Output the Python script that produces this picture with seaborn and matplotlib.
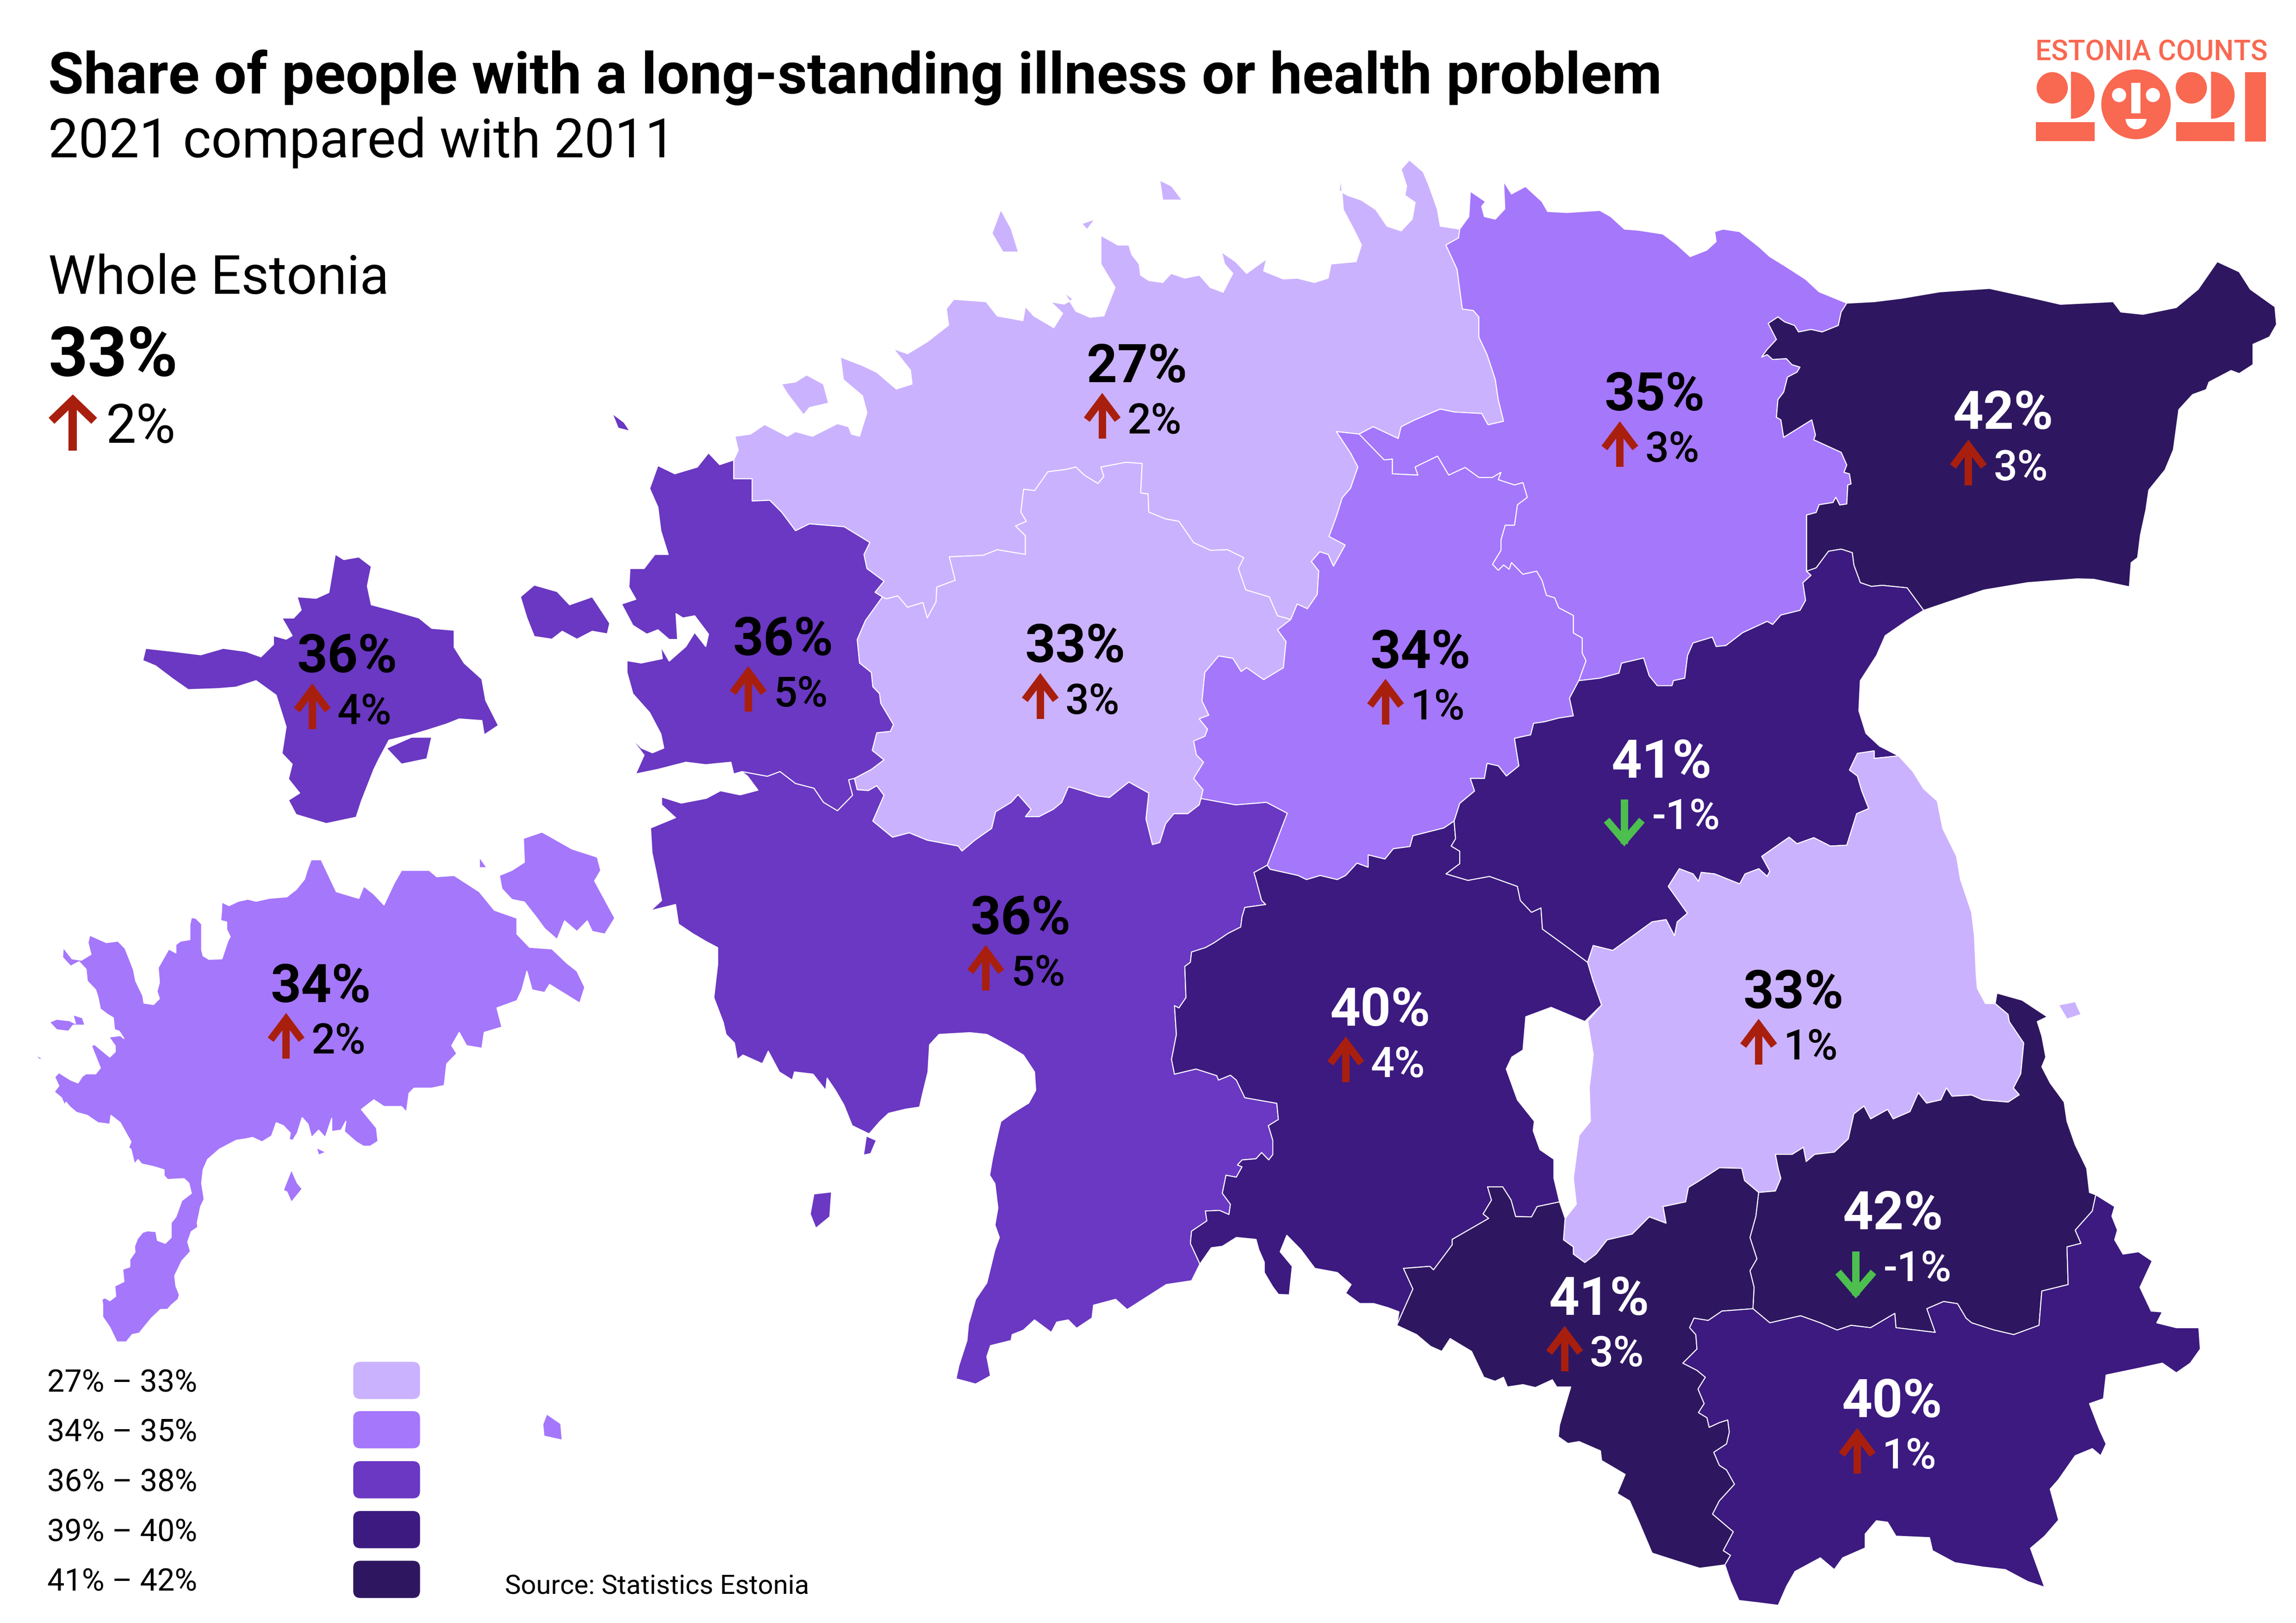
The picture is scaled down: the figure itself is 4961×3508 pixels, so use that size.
"""Share of people with a long-standing illness, Estonia 2021 vs 2011 (map)."""
import matplotlib
matplotlib.use("Agg")
import matplotlib.pyplot as plt
import seaborn as sns
from matplotlib.patches import Ellipse, FancyBboxPatch, Rectangle, Wedge

sns.set_theme(style="white")
plt.rcParams['font.family'] = ['Roboto', 'DejaVu Sans']

# Values
legend_labels = ["27% – 33%", "34% – 35%", "36% – 38%", "39% – 40%", "41% – 42%"]
legend_colors = ["#CBB2FE", "#A577FB", "#6A38C2", "#3C1A80", "#2E1760"]
palette = sns.color_palette(legend_colors)

region_names = ["Harju", "Laane-Viru", "Ida-Viru", "Rapla", "Jarva", "Laane", "Hiiu", "Saare",
                "Parnu", "Viljandi", "Jogeva", "Tartu", "Polva", "Valga", "Voru"]
region_pct = [27, 35, 42, 33, 34, 36, 36, 34, 36, 40, 41, 33, 42, 41, 40]
region_change = [2, 3, 3, 3, 1, 5, 4, 2, 5, 4, -1, 1, -1, 3, 1]
region_shade = [0, 1, 4, 0, 1, 2, 2, 1, 2, 3, 3, 0, 4, 4, 3]
label_x = [772.5, 1124.2, 1361, 730.4, 965, 532, 235.8, 218, 693.4, 938, 1129, 1218.5, 1286.3, 1086.7, 1285.5]
label_y = [259.6, 278.9, 291.4, 450, 453.9, 445.2, 457, 681, 634.8, 697, 528.4, 685, 835.5, 893.6, 963]

seg_lh = [(498.5,312.6),(498.5,325.4),(511,325.4),(511,340.5),(523,340),(531,348),(540.5,360.7),(550,356),
          (573.6,358),(591,368.7),(587,376.8),(589,386.4),(600.6,395),(594.5,402.5),(599.5,405.7)]
seg_rh = [(599.5,405.7),(602,407),(610,405),(616.6,412.7),(627,409.5),(630,420),(636,409),(636.5,399),(649,394.4),
          (645,378.4),(668,377.4),(677.6,373.6),(696.7,376.8),(696.7,364),(690,357.5),(697.4,354.3),(693.6,348),
          (695.5,332.5),(703,333.4),(712,320.6),(724.5,319),(731,317.4),(736.7,322.9),(746,328.6),(750,323.8),
          (748,317.4),(765,314.2),(776,315),(775,335),(780,335.7),(780.5,348),(792,352.7),(801,354.3),(811,368.8),
          (822.4,374),(834,373.6),(845,379),(841.4,386.4),(846.4,400.9),(862.4,405.7),(868,418.5),(877,421)]
seg_hj = [(877,421),(881.4,410.5),(888.3,413.7),(895,404),(896,388),(891,381.6),(896.7,375),(902.4,376.8),
          (906,384.8),(914,370.4),(903,364.6),(908,351),(912,338.3),(917.6,331.8),(922.6,317.4),(917.6,307.8),
          (908,293.3),(923.4,295)]
seg_hv = [(923.4,295),(933,290),(950,298),(952,290),(961.5,285.3),(978.6,278),(988,280),(1006.7,281),(1011,288.7),
          (1021.6,286.3),(1018,271.6),(1016,258),(1010.4,241),(1004.8,229),(1004.8,215.4),(1001,211),(993.6,210),
          (990,183),(982.4,166.5),(991,161.7),(991.8,155.7)]
coast_harju = [(991.8,155.7),(978.6,153.7),(976.7,142.5),(971,126.4),(967,116.8),(957.6,108.7),(952,115),(955.7,126.4),
               (954.6,132.8),(961.5,137.6),(959.5,148.9),(952,156.9),(942.4,153.7),(934.8,142.5),(925,136),(915.7,132.8),
               (910,129.6),(911,120),(912.7,142.5),(919.5,155.3),(925,166.5),(921.4,177.8),(904.3,179.4),(902.4,189),
               (893,192),(881.4,189),(872,189.6),(858.6,184.2),(860.5,176),(847,185.8),(839.5,177.8),(830,171.3),
               (832,179.4),(837.6,185.8),(831,198.6),(822.4,195.4),(815,187),(805,189),(795.7,185.8),(790,192),
               (780.5,190.6),(775,187),(774,179.4),(769,173),(767,166.5),(759.5,166.5),(748,160),(748,179.4),
               (757.6,195.4),(750,214.7),(740.5,215.6),(731,211.5),(723,198.6),(729,203.4),(723,206.7),(713.8,205),
               (722,213),(716,222.7),(702.4,214.7),(696.7,208.3),(695,217.9),(677.6,214.7),(670,205),(648,203.4),
               (643,209.9),(644.5,221),(630,232.3),(616.6,240.4),(607,237),(618.6,251.6),(619.7,261),(609,264.4),
               (595.7,253),(586,248.4),(571,242.6),(573,258),(586,269),(589,280.5),(584,296.5),(578.5,295),(576.6,290),
               (569,287.9),(552,296.5),(540.5,293.3),(535,296.5),(519.5,288.5),(510,295),(499.3,296.5),(501.6,306)]
seg_vj = [(923.4,295),(940.5,312.6),(946,312),(946,322),(963.4,322.9),(961.5,317.4),(976.7,310),(984.3,322.9),
          (995.5,317.7),(1004.8,324.5),(1014,324.5),(1019.8,321),(1018,326),(1029,329.6),(1034.7,328),(1037.7,338),
          (1031,343),(1029,356.9),(1022.7,356.9),(1019.8,367),(1019.8,374),(1014,383.5),(1018,387.6),(1021.6,384),
          (1025.4,386.9),(1027,382.4),(1034.7,390.3),(1044,388.2),(1047.7,394.4),(1050.7,404.6),(1056.3,406.3),
          (1059,413),(1069,418.3),(1069,430.2),(1075,433.6),(1075,443.8),(1077.6,449),(1072.7,462.6)]
seg_vk = [(1072.7,462.6),(1087,460.9),(1100,457.5),(1101.8,450.7),(1116.7,447.2),(1120.5,459.2),(1126,466),(1136,466),
          (1137,462.6),(1144.7,460.9),(1146.6,445.5),(1150.3,437),(1163.4,433),(1166,439.4),(1172.7,438.7),(1184,430),
          (1200.7,422.3),(1204.4,424.4),(1210,418),(1223,414.8),(1226.8,408),(1225,396),(1230.5,391),(1227.5,388.2)]
seg_vi = [(1227.5,388.2),(1227.5,350),(1234,348.3),(1236,343),(1245.4,341.5),(1247.3,338),(1250,343.2),(1254.8,342.5),
          (1255.5,329.6),(1257.7,328.9),(1256.6,322),(1252.9,321),(1254.8,316),(1251,307.4),(1232.4,298.9),(1233.5,295.5),
          (1231,285.3),(1211.9,297.2),(1210,285.3),(1207,283.6),(1208,271.6),(1211.9,266.5),(1214.5,256.3),(1221,252.9),
          (1223,249.5),(1217.5,247.8),(1213.7,243.7),(1204.4,244.3),(1200.7,241),(1197,242.6),(1200.7,237.5),(1207,230.7),
          (1201.4,219.8),(1208,215.4),(1212.6,218.8),(1219.3,221.2),(1222,225.6),(1230.5,223.9),(1238,225.6),(1249,221.2),
          (1251,212),(1254.8,206)]
coast_viru = [(1254.8,206),(1236,198.3),(1226.8,189.8),(1213.7,181.3),(1202.5,174.4),(1195,167.6),(1182,157.4),(1170.8,155.7),
              (1165,157.4),(1166,164.2),(1159.6,170),(1148.4,174.4),(1139,165.9),(1129.8,159),(1113,156.4),(1103.7,155.7),
              (1094.4,147.2),(1087,143),(1064.5,144.4),(1051.5,143.7),(1047.7,137),(1036.5,126.7),(1027,131.8),(1021.6,123.3),
              (1022.4,142),(1016,148.9),(1008.6,147.2),(1006.7,140.3),(1009.3,137),(999,130),(998,147.2),(991.8,155.7)]
coast_ida = [(1254.8,206),(1273.4,205),(1292,202.7),(1318,198.3),(1351.7,196),(1377.8,201.7),(1400,206.8),(1435.7,205),
             (1441,212),(1456,213.6),(1478.6,209),(1493.5,196.6),(1506.5,177.8),(1521.4,184.7),(1529,196.6),(1545.7,208.5),
             (1546.8,220.5),(1542,229),(1530.8,234),(1530.8,247.8),(1521.4,253.9),(1515.9,251.8),(1500.9,259.7),(1499,264.8),
             (1489.7,268.2),(1480.4,278.4),(1476.7,305.7),(1471,319.4),(1460,333),(1458,346.6),(1454.3,363.7),(1452.4,379),
             (1448,382.4),(1446.8,398.8),(1422.6,393.7),(1411.4,393.4),(1377.8,396),(1348,401),(1322,409.7),(1307,414.8)]
seg_ik = [(1307,414.8),(1295.8,399.5),(1279,397.8),(1271.5,398.5),(1264,396),(1259.6,384),(1258.5,375.6),(1251,373.2),
          (1242.4,374.6),(1234,385.9),(1227.5,388.2)]
seg_jk = [(1072.7,462.6),(1066.4,474.5),(1069,486.5),(1059,488),(1049.6,490.5),(1042,491.6),(1040,499.4),(1029,501.8),
          (1032,520.5),(1023.5,527.4),(1018,520.5),(1010.4,518.8),(1008.6,529),(999,529),(1001.9,537.6),(991.8,546),(988,558)]
seg_vk2 = [(988,558),(989,570),(986,575),(991.8,578.5),(991.8,587),(982.5,593.9),(997.4,598.3),(1012,595.6),(1031,602.4),
           (1033,612),(1040.6,620),(1047,617),(1048,631.4),(1063.4,642.6),(1078.7,654)]
seg_tk = [(1078.7,654),(1082.5,642.6),(1095.8,645.9),(1122.5,626.5),(1132,625),(1137.7,636),(1139.6,626.5),(1146.5,620.7),
          (1133.5,602.4),(1141,590.4),(1150.3,593.9),(1154,599),(1155.9,592.9),(1165,593.9),(1182,600.7),(1185.7,593.9),
          (1195,590.4),(1200.7,595.6),(1202.5,592),(1197,582),(1215.6,569),(1221,573.4),(1232.4,569.3),(1243.6,575),
          (1254.8,574.4),(1261.5,553),(1269.7,549.5),(1265,537.6),(1262,527.4),(1256.6,523.3),(1262,512),(1273.4,510.3),
          (1273.4,515.4),(1290,513.7)]
lake_k = [(1290,513.7),(1277,507),(1267.8,498.4),(1263,483),(1264,462.6),(1275,445.5),(1280.9,432),(1295.8,421.7),(1307,414.8)]
seg_rj = [(877,421),(868,428),(873.8,436),(872,453.8),(858.6,461.9),(847,453.8),(843.3,456.4),(837.6,447.4),(828,445.8),
          (818.6,457),(816.7,476.3),(821.3,486),(814.8,488.5),(820.5,495.6),(818.6,500.4),(811,503.6),(812.9,513),(817.8,518),
          (811,529),(817.4,536.7),(816,542.7)]
seg_jp = [(816,542.7),(839.5,547),(860.5,545.3),(874.6,552.7),(861,588)]
seg_jv = [(861,588),(863,590.8),(882,595),(887.7,597.8),(897,595),(908.6,597.8),(914.3,595),(922,586.6),(929.6,589.4),
          (929.6,581),(941,583.8),(946.7,576.8),(958,575.3),(960,568),(981,562.7),(988,558)]
seg_lr = [(599.5,405.7),(588,421.7),(582.4,434.6),(584,450.6),(592,457),(593,466.7),(597.6,471.5),(598.4,478),(607,492.4),
          (605,497),(595.7,498),(592.6,510),(600.6,516.4),(592,522.9),(580.5,529)]
seg_rp = [(580.5,529),(582.4,536.7),(590,537.3),(595.7,534),(600.6,540.5),(593,558),(606.4,569),(617.8,566),(630,571),
          (651,575),(653.6,578.4),(662.4,571),(673.8,563),(676.5,551.7),(687,545.3),(691.7,540),(700.5,550),(696.7,555),
          (706,555),(715.7,550),(721.4,545.3),(726,534.7),(734.8,537.3),(746,541),(753.8,542),(767,531.5),(780.5,539),
          (778.6,556.5),(783,574),(788,572.6),(792,559.8),(797.6,553),(807,553),(814.8,547),(816,542.7)]
seg_lp = [(580.5,529),(576.6,530),(579.3,540.5),(569,551),(559.5,545.3),(553,535.7),(540.5,532.5),(530,524.4),(521.4,527.6),(504,524.4)]
coast_laane = [(498.5,312.6),(489,315.8),(481.4,307.8),(473.8,317.4),(458.5,322),(447,316.4),(441.4,332),(447,344.7),(449,360.7),
               (454,376.8),(445,376.8),(437.6,386.4),(428,386.4),(427.3,399),(432,407.3),(422.3,410.5),(430,425),(439.5,431),
               (447,428),(454.7,434.6),(460.4,434.6),(459.3,417),(464,420),(472,418.5),(481.4,431),(479.5,439.4),(472,429.8),
               (466,439.4),(454.7,449.3),(449,439.4),(450,447.6),(435.7,450.6),(426,449),(426,457),(430,471.5),(441.4,484.3),
               (449,498.7),(451,508.4),(443.3,511.6),(435.7,508.4),(428,500.4),(437.6,513.2),(431.9,526),(447,522.9),(466,518),
               (479.5,519.7),(496.6,518),(498.5,526),(504,524.4)]
seg_pv = [(861,588),(852,593),(853.4,597.8),(857.2,611.9),(860,614.7),(845.8,616.7),(843.9,623),(843,630),(834.3,634.4),
          (824.8,640.8),(819,644),(809.6,647),(808.8,654),(805,656.8),(805.8,678),(801,685),(798,683.5),(799.3,703),(796,720),
          (798,730),(812.6,726.5),(826.7,731),(827.9,734),(836,730.7),(840,734),(845.8,746),(867.5,749.8),(868.6,760.8),
          (861.8,765),(864.8,774.9),(864.8,784.7),(862,788.3),(857.2,783.3),(853.4,787.5),(843.9,788.3),(840.8,791.7),
          (843.9,793),(840,800),(833,798.7),(830.5,811),(836,818.4),(835,825.4),(828.6,822.6),(819,823),(820,829.7),
          (809.6,836.7),(808.8,845),(815.3,859)]
coast_parnu = [(815.3,859),(809.6,870.4),(792.4,873),(765.8,890),(758,883),(743,887),(742,895.7),(731.5,902.7),(725.8,897),
               (718,898.5),(714.3,905.5),(702.9,897),(695.3,904),(687.7,907),(687,911),(673,914.5),(670.5,922),(673,935),
               (662.9,940.6),(649.6,937),(651.5,928),(657,911),(658,900),(662.9,883),(670.5,871.8),(676,849.3),(679,841),
               (676,832.5),(678,821),(676,804.4),(672.4,798.7),(674.3,787.5),(678,770.6),(680,762.2),(687.7,756.6),(699,749.6),
               (703.7,741),(702.9,728.5),(695.3,717),(683.8,710),(670.5,703),(659,701.8),(638,703),(631.6,710),(630.5,728.5),
               (626.7,744),(624.8,752.4),(615.3,753.8),(603.8,756.6),(598,762),(590.5,770.6),(579,765),(573.4,751),(567.6,741),
               (562,732.7),(561,741),(552.4,730),(539.8,728.5),(538.3,734),(529.5,728.5),(522,714.4),(518,722.9),(504.8,717),
               (501,720),(499,708.8),(493.3,703),(491.4,694.8),(485,678),(487.6,655.4),(487.6,644),(480,640),(470.5,634.4),
               (461,628),(459,614.7),(442,618.9),(449.5,612),(445.7,592.2),(443,579.6),(442,562.7),(459,555.7),(449.5,547),
               (449.5,541.6),(462.9,545.8),(480,542.5),(489.5,537.4),(502.9,540.2),(515,537),(508,527.6),(504,524.4)]
lake_v = [(1059.6,816.8),(1055.8,800.7),(1055.8,787.8),(1046.3,781.3),(1041.7,768.4),(1042.5,762),(1031,747.5),(1023.4,726.5),
          (1027.2,718.4),(1034.8,713.6),(1036.7,691),(1053.9,684.6),(1076.8,694.2),(1088.2,683),(1082.5,666.8),(1078.7,654)]
seg_vv = [(949,900.7),(960,876),(953.6,862),(971.5,860.6),(974,863),(986.7,846),(986.7,842.3),(1011.5,828),(1007.7,825),
          (1013.4,815.6),(1010.7,806.6),(1021,806.6),(1026.7,815.6),(1029.8,826.8),(1040.6,827),(1044.4,820),(1059.6,816.8)]
coast_v = [(815.3,859),(823,848),(830.5,847),(840,841),(853.4,842.3),(855.3,849.3),(859,857.8),(859,864.8),(864.8,874.6),
           (868.6,879.7),(876,880),(878,860.6),(869.8,850.7),(874.3,839.5),(883.9,849.3),(893.4,862),(908.6,864.8),(918,873),
           (914.3,878.8),(923.9,885.9),(933.4,885.9),(943,888.7),(950.5,891.5),(949,900.7)]
coast_tartu = [(1290,513.7),(1299.5,524),(1307,536),(1316.3,544.4),(1320,563),(1329.4,582),(1332,597.5),(1339.6,620),(1341.5,636),
               (1342.7,662),(1343.5,671.7),(1349,682),(1355.6,682)]
seg_tp = [(1355.6,682),(1364.4,689.4),(1365.2,694.3),(1375,708.8),(1373,729.7),(1368,739.4),(1372,744),(1364.4,749),(1347,747.5),
          (1339.6,744.2),(1326.3,745),(1322.5,739.4),(1318.7,747.5),(1309,749.7),(1303.4,742.6),(1297.7,755.5),(1286.3,760.4),
          (1282.5,754),(1271,760.4),(1266.5,751.7),(1259.6,757),(1255.8,774),(1246.3,783),(1233,784.5),(1227.2,789.4),
          (1225.3,779.7),(1217.7,784.5),(1206.3,784.5),(1208.2,794.2),(1210,800.7),(1206.3,809.4),(1194.9,810.4)]
seg_tv = [(1194.9,810.4),(1185.3,802.3),(1183.4,794),(1168.2,793.6),(1154.9,802.3),(1147.2,807),(1145.3,816.8),(1130,820),
          (1132,831.3),(1120.6,827),(1109,838.7),(1092,842.6),(1084.4,852.3),(1076.8,858),(1069,852.3),(1069,847.4),
          (1062.3,842.6),(1063.4,828)]
lake_t = [(1063.4,828),(1071,818.4),(1069,800.7),(1072.9,771.6),(1080.6,762),(1079.8,739.4),(1082.5,716.8),(1078.7,694),
          (1088.2,683),(1082.5,666.8),(1078.7,654)]
seg_pg = [(1194.9,810.4),(1193,826.5),(1189,841),(1193.7,855.5),(1189,863.6),(1191.8,874.9),(1191,889.4)]
seg_gw = [(1191,889.4),(1170,891),(1160.6,897.4),(1151,895.8),(1148,902.3),(1152.2,907),(1153,916.8),(1143.4,926.4),(1153,931.3),
          (1158.7,936),(1153.7,944),(1157.9,953.9),(1154,960),(1159.8,963.5),(1161.3,970),(1168.2,966.8),(1173.9,965),(1175,973.2),
          (1173.1,981.3),(1164.4,987),(1168.2,995.8),(1173.1,999),(1178.5,1008.7),(1168.2,1020),(1163.6,1029),(1177.7,1041),
          (1170.9,1053.8),(1175.8,1057),(1172,1063.5)]
coast_valga = [(1172,1063.5),(1154.9,1065.8),(1139.6,1061),(1122.5,1055.5),(1113,1033),(1107.2,1020),(1098.8,1015),(1104.2,1002),
               (1088.2,992.6),(1087.4,986),(1072.9,979.7),(1065.3,981),(1058.8,976.4),(1059.6,968.4),(1067.2,942.6),(1057.7,942.6),
               (1054.7,937.7),(1043.2,943),(1034.8,941),(1024.2,942.6),(1021.5,936),(1015.8,938.7),(1008.2,936),(999.8,918.4),
               (985.3,909.7),(979.6,918.4),(972,915),(962.5,907),(949,900.7)]
coast_polva = [(1355.6,682),(1356.8,674.9),(1373.9,679.7),(1391,691),(1384.2,694.3),(1387.3,704),(1390,718.4),(1387.3,725),(1393,736),
               (1402.5,749),(1404.4,762),(1410,778),(1417.8,794),(1419.7,810.4),(1424,812)]
seg_pw = [(1424,812),(1421.6,823),(1410,836),(1413.9,845),(1404.4,847.4),(1405.2,873),(1387.3,877.4),(1385.4,900.7),(1368.2,907),
          (1354.9,903.9),(1339.6,899),(1335.8,895.8),(1330,886),(1320.6,884.5),(1309.2,889.4),(1314.9,905.5),(1288.2,902.3),
          (1287.4,892.6),(1271,902.3),(1257.7,900.7),(1248.2,903.9),(1236.8,899),(1223.4,894.2),(1202.5,899),(1191,889.4)]
coast_voru = [(1424,812),(1436.8,820),(1434.9,826.5),(1438.7,836),(1436.8,842.6),(1442.5,852.3),(1453,850.7),(1462.3,857),(1454,874.9),
              (1461.6,891),(1469.2,891.6),(1465.4,899),(1478.7,902.3),(1494,902.3),(1495,916.8),(1488.2,926.4),(1478.7,933),(1469.2,926.4),
              (1454,929.7),(1431,934.5),(1429.2,950.6),(1419.7,953.9),(1426.5,971.6),(1431,981.3),(1427.3,989.3),(1421.6,984.5),(1410,989.3),
              (1398.7,1005.5),(1393,1012),(1398.7,1033),(1389.2,1044),(1379.6,1052.2),(1389.2,1078.7),(1377.7,1074.8),(1362.5,1066.7),
              (1347.3,1065),(1328.2,1062),(1313,1053.8),(1311,1045),(1288.2,1044),(1282.5,1034.5),(1274.9,1033.5),(1267.3,1042.5),
              (1267.3,1052),(1252,1058.7),(1246.3,1066.7),(1236.8,1058.7),(1219.6,1068),(1213.9,1078),(1208.2,1091),(1194.9,1089.3),
              (1181.5,1087.7),(1175.8,1074.8),(1172,1063.5)]
hiiu = [(97,448.9),(99,440.6),(117.6,442.7),(136.4,445),(151.7,440.6),(167,442.7),(177.3,446.4),(185.8,438),(185.8,432),(194.4,434.4),
        (198.5,432),(191.6,420),(199.5,420),(204.6,414.6),(201.9,405.6),(214.8,406.6),(223.4,402.7),(225.7,389.3),(227.8,376.7),(233.6,380.3),
        (243.8,378.5),(252.3,385),(249.6,398.3),(252.3,411),(266,414.6),(284.7,420),(293.3,427),(308.6,428.3),(308.6,439.9),(315.4,450.7),
        (327.4,461.5),(330,476),(338.6,493),(329,499.4),(327.4,489.7),(312,488.6),(303.5,492),(291.6,495.8),(279.6,499.4),(264.3,503),
        (257.5,515.7),(254,522.9),(245.5,544.6),(242,555.4),(221.7,559.7),(201.2,553.6),(196,543.8),(203.6,539),(196,529.4),(198.5,519.3),
        (191.6,512),(194.4,494),(187.6,472.4),(174,462.6),(160.3,467),(148.3,468),(127.9,468.7),(117.6,461.5),(105.7,452.5)]
saare = [(211.4,584.3),(218.2,584.3),(228.5,606),(243.8,610.6),(247.2,602.3),(254,607.7),(260.9,615),(267.7,600.5),(272.8,591.5),(291.6,591.5),
         (296.7,595.8),(308.6,595),(325.6,606),(335.9,618.6),(351.2,624),(351.2,634.8),(359.8,643.8),(375,644.9),(385.3,654.7),(392,660),
         (397.3,671),(393.9,681.7),(373.4,669),(370,674.5),(361.5,672.7),(358,660),(354.6,672.7),(351.2,680),(337.6,685),(341,698),(329,701.6),
         (327.4,712.4),(317,710.6),(312,701.6),(306.9,710.6),(310.3,716),(303.5,723),(301.8,737.7),(293.3,739.5),(281.3,739.5),(277.9,743),
         (276.2,755.7),(272.8,752),(260.9,752),(254,747.4),(245.5,754),(255.8,766.6),(256.8,775.6),(251.5,779),(247,779),(242,776),(234,769),
         (235,762),(231.8,768),(225.4,769),(225.4,760),(221,773),(216.5,768),(211.7,773),(209.3,764),(205.3,759.5),(202,770),(198.9,775),
         (196.5,774.3),(197.3,770),(192.5,765),(187.7,763),(184.5,772),(178,776),(171.6,773),(166.8,774),(160.4,775),(149,781),(141,788),
         (138,795),(137,804),(138.7,815),(136.3,820),(134,831),(134.4,834),(130,837),(127.5,844),(129.4,850.5),(123.5,857),(118.7,867),
         (119.5,874),(121.9,880),(121,883),(116.3,887),(113.9,889.8),(109,890),(102.7,896),(97.8,902),(94.6,906),(89.8,907),(85.8,912),
         (79.4,912),(77,907),(74.6,902),(69.8,895),(69.8,887),(69.3,883),(71.4,882),(74.6,884),(78.6,881),(78,874),(84.2,871),(83.4,862.6),
         (88.2,861),(88.2,856),(91.7,851),(91.4,847),(93.5,841.7),(97,837.5),(100.2,836.5),(105.9,837),(107,843),(112.3,845),(116.3,841),
         (116.3,831),(119.5,827),(123.5,816),(130,811),(128.3,804),(125,801),(113.9,801.6),(111.5,799),(111.5,795),(105,793),(96.2,791),
         (93.8,788),(91.4,791),(89,781),(87.4,780),(89,776),(83.4,766),(81.8,763),(75.4,758),(74.6,764),(66.6,763),(59.3,758),(52,756),
         (47.3,752),(44.9,749),(44,751),(41.7,746),(36.9,742),(40,738),(37.2,732),(40,729),(48,734),(53,736),(56,731.4),(58.5,729.8),(65,729.8),
         (68.2,725.8),(65,717.8),(62.2,710.8),(64.2,709.8),(69,713.8),(74.6,718.4),(78.3,714.8),(78.3,710.8),(74.1,704.8),(81.8,703.8),
         (84.2,705.8),(81,700.8),(77.8,699.8),(77,691.7),(73,689.3),(68.2,685.7),(66.6,677.7),(65,672.7),(59.3,666.7),(58.5,658.7),(53.7,653.6),
         (48,656.6),(42.5,650.6),(43,644),(48.9,651.6),(55.3,652.6),(61.8,648.6),(59.8,640.6),(61,635.6),(72.2,640.6),(80.2,639.6),(85,644.6),
         (90.6,658.7),(92.2,666.7),(97,676.7),(97.8,681.7),(104.3,682.7),(108.3,678.7),(106.7,673.7),(108.3,667.7),(107.5,657.7),(114.7,645),
         (119.5,647.6),(119.5,642),(122.7,639.6),(129,638.6),(129,628.6),(130,623.6),(133,624),(137,628),(137,645.6),(138,649.6),(142,652),
         (150.8,651.6),(154.8,639.6),(156.4,636.6),(154,631.6),(154,626.6),(150,625.6),(150.5,619.6),(150.8,613.1),(155.6,615.5),(162,612.5),
         (168.4,611.1),(174,612.5),(182.9,610.5),(194.9,609.5),(201.3,604.5),(206.9,597.5),(208.7,591.5)]

# Islands, by shade
islands_light = [
    [(531,261),(540.5,259.6),(548,254.8),(559.5,261),(563,274),(550,277),(546,282),(535,267.6)],
    [(674,158.5),(680,142.5),(687,155.3),(692,171.3),(681.4,171.3)],
    [(735,152),(744,148.9),(738.6,156)],
    [(788,122.5),(796,126.4),(803.3,136),(790,136)],
    [(1398.7,683),(1410,680.7),(1414,689.4),(1404.4,692.6)],
]
islands_mid = [
    [(339.3,595),(347.8,591.5),(356.3,586),(355.6,569.8),(368.3,565.5),(388.7,577),(405.8,582.5),(408.2,591.5),(404,598.7),(417.7,624),
     (411,634.8),(402.4,633),(399,625.8),(392,633),(383.6,625.8),(378.5,638.4),(370,631),(364.9,624),(356.3,613),(347.8,611.3),(341,604)],
    [(198,795),(202,804),(205.3,808),(198,817),(194.9,810),(192.5,809)],
    [(33.7,694.7),(38.5,692.7),(47.3,693.7),(51.3,695.7),(49.7,689.7),(56,691.7),(57.7,696.7),(49.7,696.7),(46.5,700.8),(38.5,699.8)],
    [(24,716.8),(29.7,719.8),(26.5,719.8)],
    [(215,780),(221.4,783),(216.5,785)],
    [(325.7,582.5),(330.8,589.7),(325.7,589.7)],
    [(371.5,961),(381,967.5),(382,978.7),(369.6,976),(368.8,968)],
]
islands_dark = [
    [(353.6,405.6),(363,397.6),(378.5,402),(387,411),(402.4,405.6),(414.3,423.6),(412.6,430.8),(402.4,429),(392,434.4),(382,429),(375,434.4),
     (363,432.6),(358,420)],
    [(262.6,508.5),(272.8,519.3),(290,515.7),(293.3,501),(279.6,501)],
    [(553,811.4),(565,810),(563.8,826.9),(554.3,834.7),(550.5,825)],
    [(416,281),(424,287),(428,293),(420,291)],
    [(588.6,772),(595.4,775),(591.6,784),(586.7,785)],
]


def rev(seg):
    return seg[::-1]


region_outlines = [
    seg_lh + seg_rh + seg_hj + seg_hv + coast_harju,
    seg_vj + seg_vk + seg_vi + coast_viru + rev(seg_hv),
    coast_ida + seg_ik + seg_vi,
    seg_rh + seg_rj + rev(seg_rp) + rev(seg_lr),
    rev(seg_hj) + seg_rj + seg_jp + seg_jv + rev(seg_jk) + rev(seg_vj),
    seg_lh + seg_lr + seg_lp + rev(coast_laane),
    hiiu,
    saare,
    rev(seg_lp) + seg_rp + seg_jp + seg_pv + coast_parnu,
    rev(seg_pv) + seg_jv + seg_vk2 + rev(lake_v) + rev(seg_vv) + rev(coast_v),
    rev(seg_vk) + seg_jk + seg_vk2 + seg_tk + lake_k + seg_ik,
    seg_tk + coast_tartu + seg_tp + seg_tv + lake_t,
    coast_polva + seg_pw + rev(seg_pg) + rev(seg_tp),
    seg_vv + rev(seg_tv) + seg_pg + seg_gw + coast_valga,
    rev(seg_pw) + coast_voru + rev(seg_gw),
]

UP_RED = "#A91F0E"
DOWN_GREEN = "#4CBF4F"
LOGO = "#F96851"

fig = plt.figure(figsize=(49.61, 35.08), dpi=100, facecolor="white")
ax = fig.add_axes([0, 0, 1, 1])
ax.set_xlim(0, 1560)
ax.set_ylim(1103, 0)
ax.axis("off")


def fill_shape(points, color, zorder=2):
    xs = [p[0] for p in points]
    ys = [p[1] for p in points]
    ax.fill(xs, ys, facecolor=color, edgecolor="white", linewidth=1.6, joinstyle="round", zorder=zorder)


for outline, shade in zip(region_outlines, region_shade):
    fill_shape(outline, palette[shade])
for shape in islands_light:
    fill_shape(shape, palette[0])
for shape in islands_mid:
    fill_shape(shape, palette[1])
for shape in islands_dark:
    fill_shape(shape, palette[2])


def draw_arrow(x, top, bottom, half, lw, up=True):
    color = UP_RED if up else DOWN_GREEN
    ax.plot([x, x], [top + 2, bottom], color=color, lw=lw, solid_capstyle="butt", zorder=5)
    tip, side = (top + 2, top + 16) if up else (bottom - 2, bottom - 16)
    ax.plot([x - half, x, x + half], [side, tip, side], color=color, lw=lw,
            solid_capstyle="butt", solid_joinstyle="miter", zorder=5)


for i in range(len(region_names)):
    txt = "white" if region_shade[i] >= 3 else "black"
    ax.text(label_x[i], label_y[i], f"{region_pct[i]}%", fontsize=83, fontweight="bold", color=txt,
            ha="center", va="baseline", zorder=6)
    up = region_change[i] > 0
    ax_x = label_x[i] - (23.6 if up else 25.4)
    half = 10.5 if up else 12
    draw_arrow(ax_x, label_y[i] + (9.6 if up else 13), label_y[i] + (38.5 if up else 45), half, 11.5, up)
    ax.text(ax_x + (17 if up else 19), label_y[i] + 35, f"{region_change[i]}%", fontsize=65,
            fontweight="medium", color=txt, ha="left", va="baseline", zorder=6)

# Header
ax.text(32.8, 63.4, "Share of people with a long-standing illness or health problem", fontsize=90,
        fontweight="bold", color="black", va="baseline")
ax.text(32.8, 106.8, "2021 compared with 2011", fontsize=84, color="black", va="baseline")
ax.text(32.8, 199.8, "Whole Estonia", fontsize=83.5, color="black", va="baseline")
ax.text(32.8, 255.5, "33%", fontsize=107, fontweight="bold", color="black", va="baseline")
draw_arrow(49.5, 270, 306.4, 14.5, 13, True)
ax.text(72, 301, "2%", fontsize=84, color="black", va="baseline")

# Legend and source
legend_y = [925.5, 959, 993, 1026.9, 1060.7]
for label, y0, color in zip(legend_labels, legend_y, palette):
    ax.add_patch(FancyBboxPatch((240, y0), 45.4, 25.3, boxstyle="round,pad=0,rounding_size=5",
                                facecolor=color, edgecolor="none", zorder=3))
    ax.text(32.2, y0 + 20.6, label, fontsize=48, color="black", va="baseline")
ax.text(343, 1083.2, "Source: Statistics Estonia", fontsize=41.8, color="black", va="baseline")

# Logo
ax.text(1383, 41, "ESTONIA COUNTS", fontsize=43.6, fontweight="medium", color=LOGO, va="baseline")
logo_ellipses = [(1394.4, 59.7, 10.6, 10.7), (1488.9, 59.7, 10.6, 10.7), (1451.3, 70.9, 23.6, 23.7)]
logo_half_x = [1407.1, 1502.3]
logo_rects = [(1383.4, 83, 39.9, 13), (1478.6, 83, 39.7, 13), (1525.4, 49.2, 14.3, 46.9)]
for cx, cy, rx, ry in logo_ellipses:
    ax.add_patch(Ellipse((cx, cy), 2 * rx, 2 * ry, facecolor=LOGO, edgecolor="none", zorder=3))
for cx in logo_half_x:
    ax.add_patch(Wedge((cx, 64.7), 16, -90, 90, facecolor=LOGO, edgecolor="none", zorder=3))
for x0, y0, w, h in logo_rects:
    ax.add_patch(Rectangle((x0, y0), w, h, facecolor=LOGO, edgecolor="none", zorder=3))
for cx in [1439.8, 1462.8]:
    ax.add_patch(Ellipse((cx, 64.6), 9.6, 9.6, facecolor="white", edgecolor="none", zorder=4))
ax.add_patch(Rectangle((1448.2, 56.3), 6.2, 20.7, facecolor="white", edgecolor="none", zorder=4))
ax.add_patch(Wedge((1451.3, 80.8), 7.1, 0, 180, facecolor="white", edgecolor="none", zorder=4))

fig.savefig("out.png", dpi=100, facecolor="white")
